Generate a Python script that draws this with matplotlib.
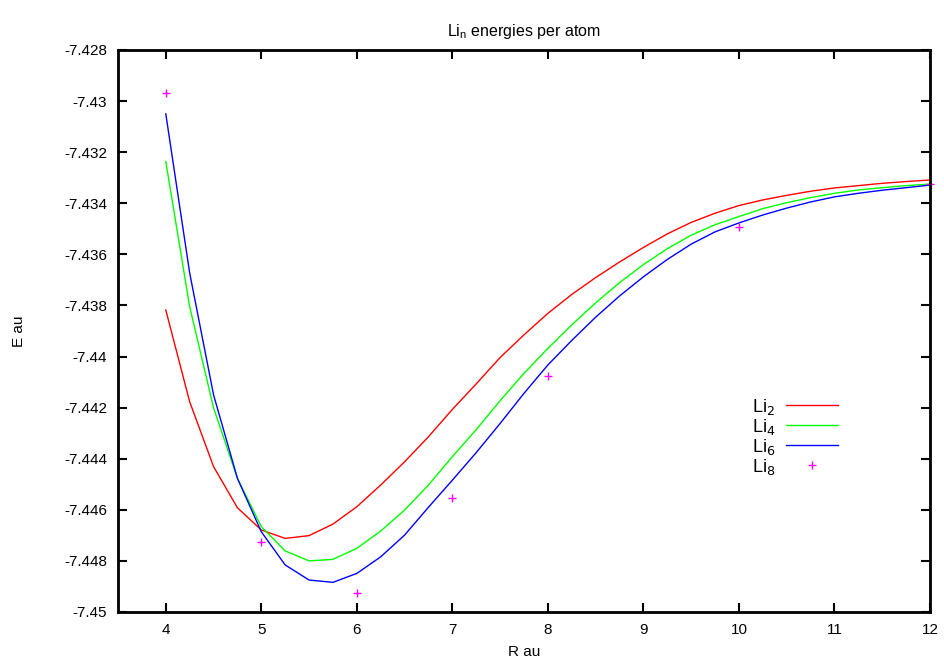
import numpy as np
import matplotlib
matplotlib.use("Agg")
import matplotlib.pyplot as plt

plt.rcParams['font.family'] = ['Liberation Sans', 'DejaVu Sans']

# bond length R (au), step 0.25 from 4 to 12
r = [4.0, 4.25, 4.5, 4.75, 5.0, 5.25, 5.5, 5.75, 6.0, 6.25, 6.5, 6.75,
     7.0, 7.25, 7.5, 7.75, 8.0, 8.25, 8.5, 8.75, 9.0, 9.25, 9.5, 9.75,
     10.0, 10.25, 10.5, 10.75, 11.0, 11.25, 11.5, 11.75, 12.0]

# energy per atom (au)
li2 = [-7.43818, -7.44177, -7.44431, -7.44592, -7.44679, -7.44712, -7.44701,
       -7.44656, -7.44588, -7.44503, -7.44412, -7.44314,
       -7.44207, -7.44107, -7.44004, -7.43915, -7.43831, -7.43757, -7.43691,
       -7.43630, -7.43573, -7.43520, -7.43475, -7.43439,
       -7.43409, -7.43387, -7.43369, -7.43353, -7.43340, -7.43331, -7.43322,
       -7.43315, -7.43309]

li4 = [-7.43237, -7.43805, -7.44201, -7.44477, -7.44666, -7.44761, -7.44800,
       -7.44794, -7.44751, -7.44683, -7.44601, -7.44503,
       -7.44392, -7.44286, -7.44173, -7.44066, -7.43968, -7.43876, -7.43790,
       -7.43711, -7.43640, -7.43578, -7.43525, -7.43484,
       -7.43452, -7.43421, -7.43398, -7.43378, -7.43361, -7.43348, -7.43339,
       -7.43331, -7.43325]

li6 = [-7.43050, -7.43673, -7.44150, -7.44477, -7.44686, -7.44816, -7.44875,
       -7.44884, -7.44849, -7.44784, -7.44699, -7.44590,
       -7.44484, -7.44376, -7.44262, -7.44144, -7.44033, -7.43937, -7.43846,
       -7.43763, -7.43688, -7.43620, -7.43560, -7.43512,
       -7.43477, -7.43446, -7.43419, -7.43395, -7.43375, -7.43361, -7.43349,
       -7.43339, -7.43329]

r8 = [4, 5, 6, 7, 8, 10, 12]
li8 = [-7.42970, -7.44726, -7.44924, -7.44555, -7.44076, -7.43492, -7.43326]

fig = plt.figure(figsize=(9.45, 6.7), dpi=100)
ax = fig.add_axes([0.1249, 0.0866, 0.8592, 0.8388])

ax.plot(r, li2, color='#ff0000', lw=1.0, label='Li$_2$')
ax.plot(r, li4, color='#00ff00', lw=1.0, label='Li$_4$')
ax.plot(r, li6, color='#0000ff', lw=1.0, label='Li$_6$')
ax.plot(r8, li8, ls='none', marker='+', ms=6, mew=1.0, color='#ff00ff',
        label='Li$_8$', clip_on=False)

ax.set_xlim(3.5, 12)
ax.set_ylim(-7.45, -7.428)
ax.set_xticks(range(4, 13))
yt = np.arange(-7.45, -7.4279, 0.002)
ax.set_yticks(yt)
ax.set_yticklabels(['%g' % round(v, 3) for v in yt])

ax.tick_params(direction='in', length=6.5, width=1.5, top=True, right=True,
               labelsize=11, pad=8)
for s in ax.spines.values():
    s.set_linewidth(2)

ax.set_title('Li$_\\mathregular{n}$ energies per atom', fontsize=11.5, pad=10)
ax.set_xlabel('R au', fontsize=11, labelpad=6)
ax.set_ylabel('E au', fontsize=11, labelpad=27)

ax.legend(loc='upper right', bbox_to_anchor=(0.887, 0.383), frameon=False,
          markerfirst=False, handlelength=2.9, labelspacing=0.0,
          borderpad=0, borderaxespad=0, handletextpad=0.6, fontsize=13)

fig.savefig('out.png', dpi=100)
